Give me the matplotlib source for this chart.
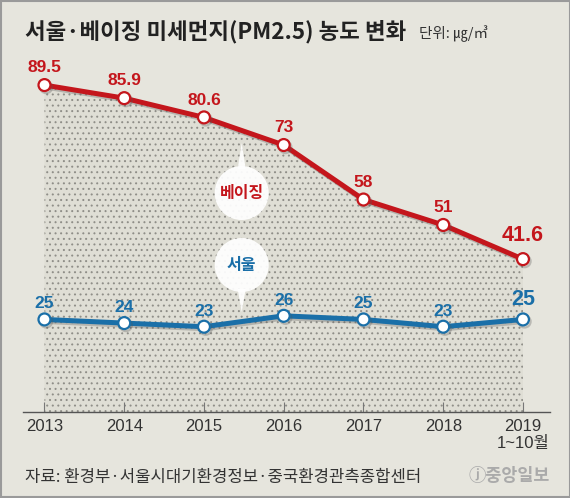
import matplotlib
matplotlib.use("Agg")
import matplotlib.pyplot as plt
import matplotlib.patheffects as pe
from matplotlib.patches import Circle, Polygon, Rectangle

years = [2013, 2014, 2015, 2016, 2017, 2018, 2019]
year_labels = ["2013", "2014", "2015", "2016", "2017", "2018", "2019\n1~10월"]
beijing = [89.5, 85.9, 80.6, 73, 58, 51, 41.6]
seoul = [25, 24, 23, 26, 25, 23, 25]
beijing_txt = ["89.5", "85.9", "80.6", "73", "58", "51", "41.6"]
seoul_txt = ["25", "24", "23", "26", "25", "23", "25"]

BG = "#e6e5dd"
RED = "#c4161c"
BLUE = "#1a6fa8"
KR = ["Noto Sans CJK KR", "DejaVu Sans"]
NUM = ["Liberation Sans", "DejaVu Sans"]
TICKF = ["Liberation Sans", "Noto Sans CJK KR"]

plt.rcParams["hatch.linewidth"] = 0.7

W, H = 570, 498
fig = plt.figure(figsize=(5.7, 4.98), dpi=100, facecolor=BG)

# main axes (pixel layout: spine from x=23 to 550, baseline y=412)
ax = fig.add_axes([22.7 / W, (H - 412) / H, (550 - 22.7) / W, 352 / H])
ax.set_facecolor("none")
ax.set_xlim(2012.727, 2019.339)
ymin = -0.47
ax.set_ylim(ymin, 96.4)

ax.fill_between(years, beijing, ymin, facecolor="#dfded5", edgecolor="#8f8e88",
                hatch="...", linewidth=0, zorder=1)

shadow = [pe.SimpleLineShadow(offset=(1.2, -1.5), shadow_color="#555555", alpha=0.3), pe.Normal()]
ax.plot(years, beijing, color=RED, lw=3.6, marker="o", ms=8.6, mfc="white",
        mec=RED, mew=1.6, zorder=4, path_effects=shadow, solid_capstyle="round")
ax.plot(years, seoul, color=BLUE, lw=3.6, marker="o", ms=8.6, mfc="white",
        mec=BLUE, mew=1.6, zorder=4, path_effects=shadow, solid_capstyle="round")

for i, (x, v) in enumerate(zip(years, beijing)):
    last = i == len(years) - 1
    ax.annotate(beijing_txt[i], (x, v), xytext=(0, 17 if last else 12.5),
                textcoords="offset points", ha="center", va="center",
                color=RED, fontsize=15.5 if last else 12.5, fontweight="bold",
                family=NUM, zorder=5)
for i, (x, v) in enumerate(zip(years, seoul)):
    last = i == len(years) - 1
    ax.annotate(seoul_txt[i], (x, v), xytext=(0, 14.5 if last else 11.3),
                textcoords="offset points", ha="center", va="center",
                color=BLUE, fontsize=15.5 if last else 12.5, fontweight="bold",
                family=NUM, zorder=5)

for s in ["left", "right", "top"]:
    ax.spines[s].set_visible(False)
ax.spines["bottom"].set_color("#555555")
ax.spines["bottom"].set_linewidth(1.0)
ax.set_yticks([])
ax.set_xticks(years)
ax.set_xticklabels(year_labels, family=TICKF, fontsize=12, color="#333333",
                   linespacing=1.15)
ax.tick_params(axis="x", direction="in", length=7, width=0.8, color="#777777", pad=5)

# overlay in pixel coordinates for bubbles, title, footer
ov = fig.add_axes([0, 0, 1, 1], zorder=3)
ov.set_xlim(0, W)
ov.set_ylim(H, 0)
ov.axis("off")
ov.patch.set_alpha(0)

for cx, cy, tail, name, col in [(241.7, 193, 143, "베이징", RED), (241.7, 265, 312, "서울", BLUE)]:
    ov.add_patch(Circle((cx, cy), 27, facecolor="white", edgecolor="none", alpha=0.93))
    base = cy - 24 if tail < cy else cy + 24
    ov.add_patch(Polygon([(cx - 4, base), (cx, tail), (cx + 4, base)], closed=True,
                         facecolor="white", edgecolor="none", alpha=0.93))
    ov.text(cx, cy, name, ha="center", va="center", color=col, fontsize=11.5,
            fontweight="bold", family=KR)

ov.text(25, 32, "서울·베이징 미세먼지(PM2.5) 농도 변화", ha="left", va="center",
        fontsize=16.1, fontweight="bold", color="#222222", family=KR)
ov.text(419, 34, "단위: ㎍/㎥", ha="left", va="center", fontsize=10.5,
        color="#333333", family=KR)
ov.text(25, 477, "자료: 환경부·서울시대기환경정보·중국환경관측종합센터", ha="left",
        va="center", fontsize=12, color="#333333", family=KR)
ov.text(550, 476, "ⓙ중앙일보", ha="right", va="center", fontsize=12.5,
        fontweight="bold", color="#aaaaaa", family=KR)
ov.add_patch(Rectangle((0.5, 0.5), W - 1, H - 1.5, facecolor="none",
                       edgecolor="#9a9a9a", linewidth=1.5))

fig.savefig("out.png", dpi=100, facecolor=BG)
